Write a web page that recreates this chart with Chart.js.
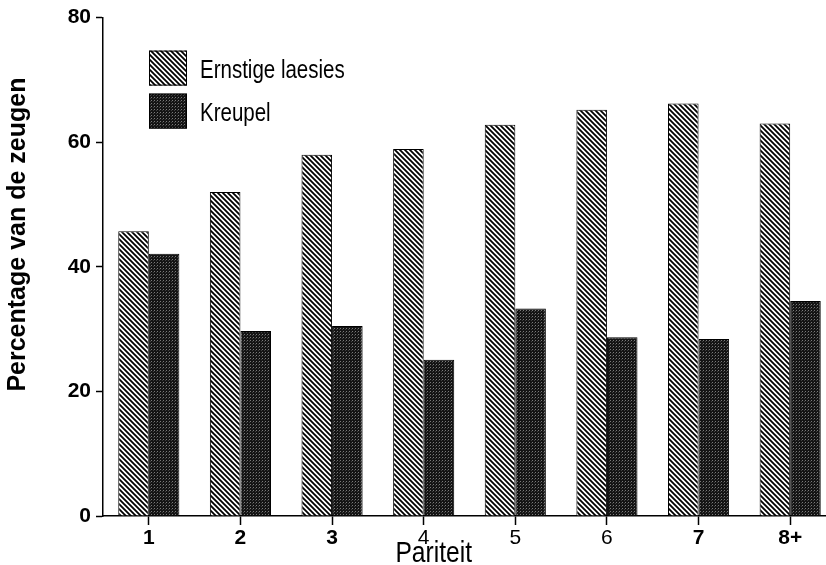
<!DOCTYPE html>
<html>
<head>
<meta charset="utf-8">
<script src="https://cdn.jsdelivr.net/npm/chart.js@4/dist/chart.umd.min.js"></script>
<style>
  html, body { margin: 0; padding: 0; background: #fff; overflow: hidden; }
  #wrap { position: relative; width: 840px; height: 565px; }
</style>
</head>
<body>
<div id="wrap"><canvas id="chart"></canvas></div>
<script>
const pariteit = ['1', '2', '3', '4', '5', '6', '7', '8+'];
const ernstigeLaesies = [45.7, 52.0, 58.0, 58.9, 62.8, 65.2, 66.2, 63.0];
const kreupel = [42.1, 29.7, 30.5, 25.1, 33.3, 28.7, 28.4, 34.5];
const yTicks = [0, 20, 40, 60, 80];
// labels 4, 5 and 6 are printed in a plain face in the original
const plainLabels = ['4', '5', '6'];

const SANS = '"Liberation Sans", Arial, Helvetica, sans-serif';
const NARROW_SCALE = 0.82; // the original text is set in a condensed face

function hatchPattern() {
  const c = document.createElement('canvas');
  c.width = 5;
  c.height = 5;
  const g = c.getContext('2d');
  g.fillStyle = '#fff';
  g.fillRect(0, 0, 5, 5);
  g.strokeStyle = '#000';
  g.lineWidth = 1.8;
  g.beginPath();
  g.moveTo(-1, -1); g.lineTo(6, 6);
  g.moveTo(-1, 4); g.lineTo(1, 6);
  g.moveTo(4, -1); g.lineTo(6, 1);
  g.stroke();
  return g.createPattern(c, 'repeat');
}

function stipplePattern() {
  const c = document.createElement('canvas');
  c.width = 3;
  c.height = 3;
  const g = c.getContext('2d');
  g.fillStyle = '#141414';
  g.fillRect(0, 0, 3, 3);
  g.fillStyle = '#7a7a7a';
  g.fillRect(1, 1, 1, 1);
  g.fillStyle = '#404040';
  g.fillRect(0, 2, 1, 1);
  return g.createPattern(c, 'repeat');
}

function narrowText(ctx, text, x, y, size, align) {
  ctx.save();
  ctx.translate(x, y);
  ctx.scale(NARROW_SCALE, 1);
  ctx.font = size + 'px ' + SANS;
  ctx.textAlign = align;
  ctx.fillText(text, 0, 0);
  ctx.restore();
}

// legend inside the plot and the two axis titles
const decorations = {
  id: 'decorations',
  afterDraw(chart) {
    const ctx = chart.ctx;
    const area = chart.chartArea;
    ctx.save();

    const bx = area.left + 46;
    let by = area.top + 33;
    chart.data.datasets.forEach((ds) => {
      ctx.fillStyle = ds.backgroundColor;
      ctx.fillRect(bx, by, 38, 35);
      ctx.strokeStyle = '#000';
      ctx.lineWidth = 1;
      ctx.strokeRect(bx + 0.5, by + 0.5, 37, 34);
      ctx.fillStyle = '#000';
      ctx.textBaseline = 'alphabetic';
      narrowText(ctx, ds.label, bx + 51, by + 27, 25, 'left');
      by += 43;
    });

    ctx.textBaseline = 'alphabetic';
    narrowText(ctx, 'Pariteit', chart.scales.x.getPixelForValue(3) + 10, area.bottom + 46, 30, 'center');

    ctx.translate(18, area.top + 217);
    ctx.rotate(-Math.PI / 2);
    ctx.font = 'bold 25px ' + SANS;
    ctx.textAlign = 'center';
    ctx.textBaseline = 'middle';
    ctx.fillText('Percentage van de zeugen', 0, 0);
    ctx.restore();
  }
};

const ctx = document.getElementById('chart').getContext('2d');
new Chart(ctx, {
  type: 'bar',
  data: {
    labels: pariteit,
    datasets: [
      {
        label: 'Ernstige laesies',
        data: ernstigeLaesies,
        backgroundColor: hatchPattern(),
        borderColor: '#000',
        borderWidth: 1,
        borderSkipped: 'bottom',
      },
      {
        label: 'Kreupel',
        data: kreupel,
        backgroundColor: stipplePattern(),
        borderColor: '#000',
        borderWidth: 1,
        borderSkipped: 'bottom',
      },
    ],
  },
  options: {
    responsive: true,
    maintainAspectRatio: false,
    animation: false,
    categoryPercentage: 0.667,
    barPercentage: 1.0,
    layout: { padding: { top: 17, right: 4, left: 0, bottom: 0 } },
    plugins: {
      legend: { display: false },
      tooltip: { enabled: false },
    },
    scales: {
      x: {
        offset: true,
        afterFit(scale) { scale.height = 49; },
        border: { display: true, color: '#000', width: 1.5 },
        grid: {
          offset: false,
          drawOnChartArea: false,
          drawTicks: true,
          tickLength: 9,
          color: '#000',
          tickWidth: 1.5,
        },
        ticks: {
          color: '#000',
          padding: 1,
          font: (c) => {
            const lab = pariteit[c.index];
            return plainLabels.includes(lab)
              ? { family: SANS, size: 21, weight: 'normal' }
              : { family: SANS, size: 21, weight: 'bold' };
          },
        },
      },
      y: {
        min: 0,
        max: 80,
        afterFit(scale) { scale.width = 103; },
        afterBuildTicks(scale) { scale.ticks = yTicks.map((v) => ({ value: v })); },
        border: { display: true, color: '#000', width: 1.5 },
        grid: {
          drawOnChartArea: false,
          drawTicks: true,
          tickLength: 7,
          color: '#000',
          tickWidth: 1.5,
        },
        ticks: {
          color: '#000',
          padding: 5,
          font: { family: SANS, size: 21, weight: 'bold' },
        },
      },
    },
  },
  plugins: [decorations],
});
</script>
</body>
</html>
